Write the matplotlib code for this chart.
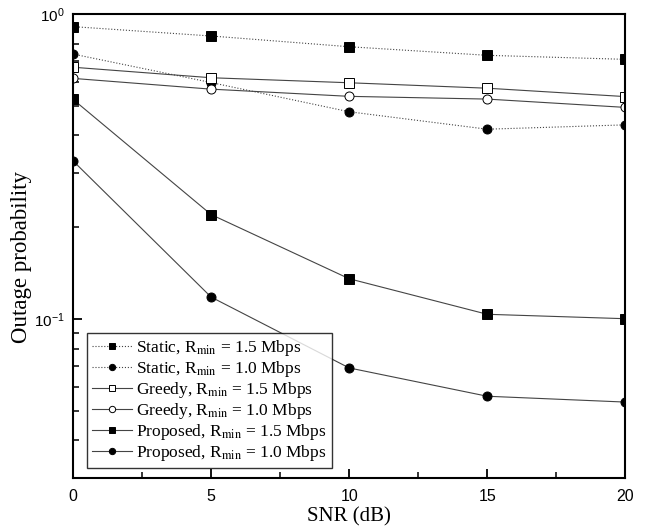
import matplotlib
matplotlib.use("Agg")
import matplotlib.pyplot as plt
from matplotlib.ticker import MultipleLocator, LogLocator, NullFormatter

snr = [0, 5, 10, 15, 20]

static_15 = [0.909, 0.847, 0.781, 0.732, 0.710]
static_10 = [0.739, 0.596, 0.478, 0.419, 0.433]
greedy_15 = [0.669, 0.618, 0.595, 0.571, 0.536]
greedy_10 = [0.615, 0.567, 0.537, 0.526, 0.494]
proposed_15 = [0.525, 0.220, 0.1355, 0.1036, 0.1002]
proposed_10 = [0.330, 0.118, 0.0691, 0.0558, 0.0534]

labels = [
    "Static, R$_{\\rm min}$ = 1.5 Mbps",
    "Static, R$_{\\rm min}$ = 1.0 Mbps",
    "Greedy, R$_{\\rm min}$ = 1.5 Mbps",
    "Greedy, R$_{\\rm min}$ = 1.0 Mbps",
    "Proposed, R$_{\\rm min}$ = 1.5 Mbps",
    "Proposed, R$_{\\rm min}$ = 1.0 Mbps",
]

plt.rcParams["mathtext.fontset"] = "stix"
serif = "Liberation Serif"
sans = "Liberation Sans"

fig = plt.figure(figsize=(6.53, 5.32), dpi=100)
ax = fig.add_axes([0.1118, 0.1015, 0.8458, 0.8722])

lc = "#444444"
lw = 0.8
ms = 6.5
series = [
    (static_15, "s", "k", ":"),
    (static_10, "o", "k", ":"),
    (greedy_15, "s", "w", "-"),
    (greedy_10, "o", "w", "-"),
    (proposed_15, "s", "k", "-"),
    (proposed_10, "o", "k", "-"),
]
for (vals, mk, fc, ls), lab in zip(series, labels):
    ax.plot(snr, vals, linestyle=ls, color=lc, linewidth=lw, marker=mk,
            markersize=ms, markerfacecolor=fc, markeredgecolor="k",
            markeredgewidth=0.7, label=lab)

ax.set_yscale("log")
ax.set_xlim(0, 20)
ax.set_ylim(0.0301, 1.0)
ax.xaxis.set_major_locator(MultipleLocator(5))
ax.xaxis.set_minor_locator(MultipleLocator(2.5))
ax.yaxis.set_major_locator(LogLocator(base=10))
ax.yaxis.set_minor_locator(LogLocator(base=10, subs=range(2, 10)))
ax.yaxis.set_minor_formatter(NullFormatter())
ax.tick_params(which="both", direction="in", top=False, right=False)
ax.tick_params(which="major", length=6.5, width=1.3)
ax.tick_params(which="minor", length=4, width=1.1)
ax.tick_params(axis="x", which="major", pad=8)
ax.tick_params(axis="y", which="major", pad=6)
for sp in ax.spines.values():
    sp.set_linewidth(1.5)

for t in ax.get_xticklabels():
    t.set_fontfamily(sans)
    t.set_fontsize(11.5)
for t in ax.get_yticklabels():
    t.set_fontfamily(sans)
    t.set_fontsize(11)

ax.set_xlabel("SNR (dB)", fontfamily=serif, fontsize=15, labelpad=2)
ax.set_ylabel("Outage probability", fontfamily=serif, fontsize=16.5)
ax.yaxis.set_label_coords(-0.074, 0.476)

leg = ax.legend(loc="lower left", bbox_to_anchor=(0.0253, 0.0216),
                borderaxespad=0, prop={"family": serif, "size": 12.5},
                frameon=True, fancybox=False, edgecolor="k",
                handlelength=2.3, handletextpad=0.25, borderpad=0.3,
                labelspacing=0.05, markerscale=0.7)
leg.get_frame().set_linewidth(1.0)

fig.savefig("out.png", dpi=100)
